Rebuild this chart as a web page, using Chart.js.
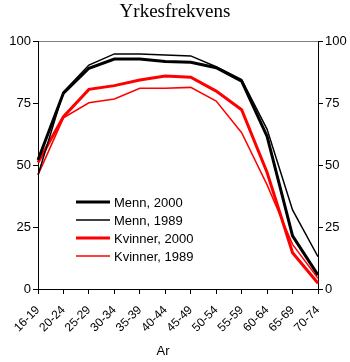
<!DOCTYPE html>
<html>
<head>
<meta charset="utf-8">
<script src="https://cdn.jsdelivr.net/npm/chart.js@4.4.0/dist/chart.umd.min.js"></script>
<style>
  html, body { margin: 0; padding: 0; background: #fff; }
  #wrap { width: 350px; height: 362px; }
</style>
</head>
<body>
<div id="wrap"><canvas id="chart" width="350" height="362"></canvas></div>
<script>
const ageGroups = ['16-19', '20-24', '25-29', '30-34', '35-39', '40-44', '45-49', '50-54', '55-59', '60-64', '65-69', '70-74'];
const menn2000 = [52, 79, 89, 92.7, 92.7, 91.7, 91.4, 89.2, 83.8, 61.5, 21.4, 5.6];
const menn1989 = [46, 79.5, 90.3, 94.8, 94.8, 94.4, 94, 89.6, 84.5, 64.4, 31.9, 13];
const kvinner2000 = [51, 69.5, 80.5, 82, 84.3, 85.9, 85.4, 79.8, 72.3, 47, 14.6, 2.3];
const kvinner1989 = [46, 69, 75.1, 76.6, 80.9, 80.9, 81.3, 75.8, 63, 42, 18, 4.3];
const yTicks = [0, 25, 50, 75, 100];

const sans = 'Liberation Sans, Arial, sans-serif';

// legend drawn inside the plot, like the original
const innerLegend = {
    id: 'innerLegend',
    afterDraw(chart) {
        const ctx = chart.ctx;
        ctx.save();
        ctx.font = '13px ' + sans;
        ctx.textBaseline = 'middle';
        chart.data.datasets.forEach((ds, i) => {
            const y = 202 + i * 18;
            ctx.strokeStyle = ds.borderColor;
            ctx.lineWidth = ds.borderWidth;
            ctx.beginPath();
            ctx.moveTo(76, y);
            ctx.lineTo(110, y);
            ctx.stroke();
            ctx.fillStyle = '#000';
            ctx.fillText(ds.label, 114, y + 1);
        });
        // x axis title
        ctx.textAlign = 'center';
        ctx.fillText('Ar', 163, 351);
        ctx.restore();
    }
};

const yAxis = (pos) => ({
    type: 'linear',
    position: pos,
    min: 0,
    max: 100,
    afterBuildTicks: (s) => { s.ticks = yTicks.map(v => ({ value: v })); },
    afterFit: (s) => { s.width = pos === 'left' ? 38 : 32; },
    ticks: { color: '#000', font: { family: sans, size: 13 }, padding: 2 },
    grid: {
        drawOnChartArea: pos === 'left',
        color: (c) => c.tick && c.tick.value === 100 ? '#808080' : 'rgba(0,0,0,0)',
        tickColor: '#000',
        tickLength: 5
    },
    border: { color: '#000', width: 1 }
});

new Chart(document.getElementById('chart'), {
    type: 'line',
    data: {
        labels: ageGroups,
        datasets: [
            { label: 'Menn, 2000', data: menn2000, borderColor: '#000000', borderWidth: 3 },
            { label: 'Menn, 1989', data: menn1989, borderColor: '#000000', borderWidth: 1.5 },
            { label: 'Kvinner, 2000', data: kvinner2000, borderColor: '#ff0000', borderWidth: 3 },
            { label: 'Kvinner, 1989', data: kvinner1989, borderColor: '#ff0000', borderWidth: 1.5 }
        ]
    },
    options: {
        responsive: false,
        animation: false,
        devicePixelRatio: 1,
        layout: { padding: 0 },
        elements: { point: { radius: 0 }, line: { tension: 0 } },
        plugins: {
            legend: { display: false },
            tooltip: { enabled: false },
            title: {
                display: true,
                text: 'Yrkesfrekvens',
                color: '#000',
                font: { family: 'Liberation Serif, Times New Roman, serif', size: 19, weight: 'normal' },
                padding: { top: 1, bottom: 17.2 }
            }
        },
        scales: {
            x: {
                offset: false,
                afterFit: (s) => { s.height = 73; },
                ticks: {
                    color: '#000',
                    font: { family: sans, size: 12 },
                    minRotation: 45,
                    maxRotation: 45,
                    autoSkip: false,
                    padding: 9
                },
                grid: { drawOnChartArea: false, tickColor: '#000', tickLength: 5 },
                border: { color: '#000', width: 1 }
            },
            y: yAxis('left'),
            y2: yAxis('right')
        }
    },
    plugins: [innerLegend]
});
</script>
</body>
</html>
